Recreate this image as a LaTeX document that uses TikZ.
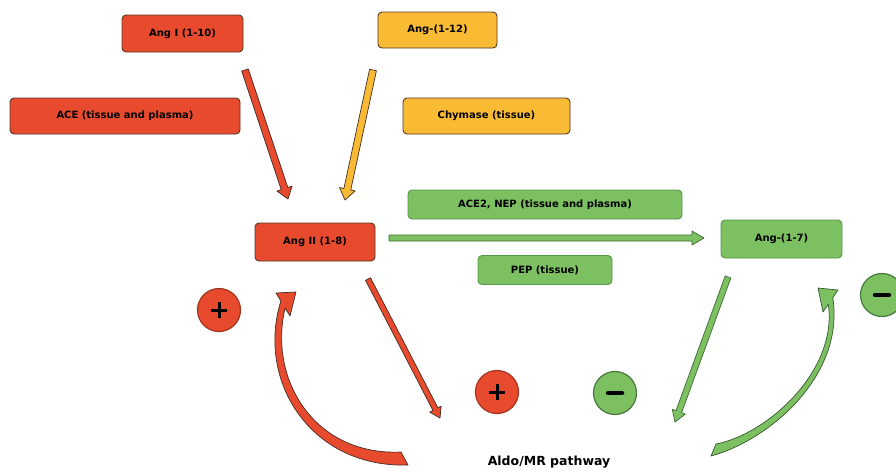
\documentclass[tikz,border=0pt]{standalone}
\usepackage{fontspec}
\setmainfont{DejaVu Sans}
\usetikzlibrary{calc}
\definecolor{angred}{RGB}{232,74,46}
\definecolor{angyellow}{RGB}{249,186,52}
\definecolor{anggreen}{RGB}{124,192,98}
\definecolor{boxline}{RGB}{85,55,40}
\definecolor{greenline}{RGB}{88,150,72}
\definecolor{arrowline}{RGB}{70,45,35}

% block arrow: [style] from, to, fill, half shaft, half head, head length
\newcommand{\blockarrow}[7][]{%
  \path ($(#3)!#7!(#2)$) coordinate (ba-h);
  \draw[fill=#4, draw=arrowline, line width=0.7pt, line join=round, #1]
    ($(#2)!#5!90:(#3)$) -- ($(ba-h)!#5!90:(#3)$) -- ($(ba-h)!#6!90:(#3)$)
    -- (#3) -- ($(ba-h)!#6!-90:(#3)$) -- ($(ba-h)!#5!-90:(#3)$)
    -- ($(#2)!#5!-90:(#3)$) -- cycle;
}

\begin{document}
\begin{tikzpicture}[x=1pt, y=-1pt,
    box/.style={draw, rounded corners=4pt, line width=0.9pt, align=center, inner sep=0pt,
      font=\fontsize{10}{12}\selectfont\bfseries},
    redbox/.style={box, fill=angred, draw=boxline},
    yellowbox/.style={box, fill=angyellow, draw=boxline},
    greenbox/.style={box, fill=anggreen, draw=greenline},
    sign/.style={circle, minimum size=43pt, inner sep=0pt, line width=1.2pt},
    plussign/.style={sign, fill=angred, draw=angred!70!black,
      path picture={\draw[black, line width=3pt] (path picture bounding box.center) ++(-8,0) -- ++(16,0);
                    \draw[black, line width=3pt] (path picture bounding box.center) ++(0,-8) -- ++(0,16);}},
    minussign/.style={sign, fill=anggreen, draw=greenline!80!black,
      path picture={\draw[black, line width=4.5pt, line cap=round] (path picture bounding box.center) ++(-7,0) -- ++(14,0);}},
    curvearrow/.style={draw=arrowline, line width=0.7pt, line join=round}]
  \useasboundingbox (0,0) rectangle (896,472);

  % boxes
  \node[redbox, minimum width=121pt, minimum height=37pt] (angI) at (182.5,33.5) {Ang I (1-10)};
  \node[yellowbox, minimum width=119pt, minimum height=36pt] (angXII) at (437.5,30) {Ang-(1-12)};
  \node[redbox, minimum width=230pt, minimum height=36pt] (ace) at (125,116) {ACE (tissue and plasma)};
  \node[yellowbox, minimum width=167pt, minimum height=36pt] (chym) at (486.5,116) {Chymase (tissue)};
  \node[greenbox, minimum width=274pt, minimum height=29pt] (acetwo) at (545,204.5) {ACE2, NEP (tissue and plasma)};
  \node[redbox, minimum width=120pt, minimum height=38pt] (angII) at (315,242) {Ang II (1-8)};
  \node[greenbox, minimum width=121pt, minimum height=38pt] (angVII) at (781.5,239) {Ang-(1-7)};
  \node[greenbox, minimum width=134pt, minimum height=29pt] (pep) at (545,270) {PEP (tissue)};

  % signs
  \node[plussign] (plusII) at (219,310) {};
  \node[plussign] (plusAldo) at (497,392) {};
  \node[minussign] (minusAldo) at (615,393) {};
  \node[minussign] (minusVII) at (882,295) {};

  \node[font=\fontsize{12.5}{14}\selectfont\bfseries] (aldo) at (549,462) {Aldo/MR pathway};

  % arrow ends
  \coordinate (angI-out) at (245,70);
  \coordinate (angII-fromI) at (288,199);
  \coordinate (angXII-out) at (373,70);
  \coordinate (angII-fromXII) at (345,200);
  \coordinate (angII-out) at (389,238);
  \coordinate (angVII-in) at (704,238);
  \coordinate (angII-down) at (368,279);
  \coordinate (aldo-fromII) at (440,418);
  \coordinate (angVII-down) at (728,277);
  \coordinate (aldo-fromVII) at (675,422);
  \coordinate (fbR-tip) at (296,292);
  \coordinate (fbG-tip) at (818,288);

  \blockarrow{angI-out}{angII-fromI}{angred}{3.5pt}{8pt}{11pt}
  \blockarrow{angXII-out}{angII-fromXII}{angyellow}{3.5pt}{8pt}{11pt}
  \blockarrow[draw=greenline!70!black]{angII-out}{angVII-in}{anggreen}{3pt}{7pt}{12pt}
  \blockarrow{angII-down}{aldo-fromII}{angred}{2.8pt}{6.5pt}{10pt}
  \blockarrow[draw=greenline!70!black]{angVII-down}{aldo-fromVII}{anggreen}{3pt}{7pt}{11pt}

  % feedback arrows
  \filldraw[curvearrow, fill=angred]
    (408,465) .. controls (310,468) and (256,380) .. (280.9,301)
    -- (276,293) -- (fbR-tip) -- (290,316) -- (285.1,308)
    .. controls (268,380) and (315,456) .. (401,452) -- cycle;
  \filldraw[curvearrow, fill=anggreen, draw=greenline!60!black]
    (711,456) .. controls (770,440) and (845,375) .. (832.75,297.7)
    -- (838,290) -- (fbG-tip) -- (823,312) -- (828.25,304.3)
    .. controls (838,370) and (768,434) .. (716,444) -- cycle;
\end{tikzpicture}
\end{document}
